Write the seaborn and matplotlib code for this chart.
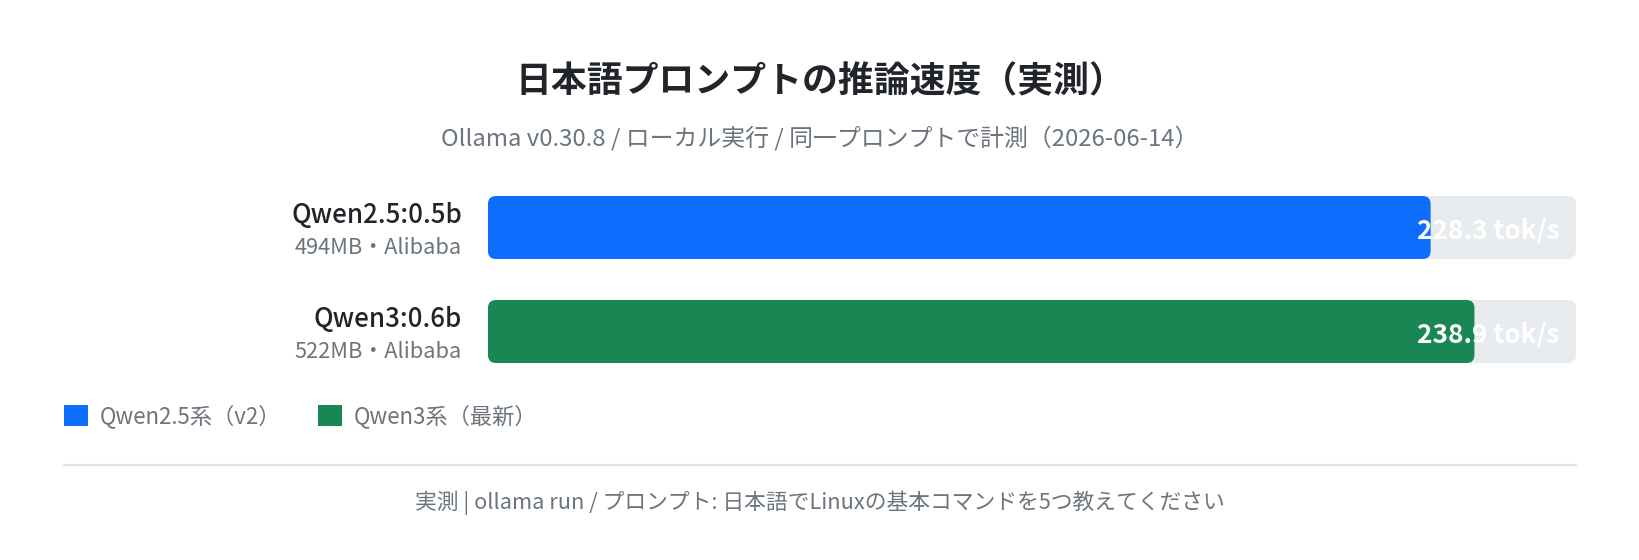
import matplotlib
matplotlib.use("Agg")
import matplotlib.pyplot as plt
import matplotlib.transforms as mtransforms
from matplotlib.patches import FancyBboxPatch, Patch
from matplotlib.lines import Line2D
import seaborn as sns
import pandas as pd

# データ（実測値）
models = ["Qwen2.5:0.5b", "Qwen3:0.6b"]
sizes = ["494MB", "522MB"]
vendors = ["Alibaba", "Alibaba"]
speeds = [228.3, 238.9]
series = ["Qwen2.5系（v2）", "Qwen3系（最新）"]
series_colors = ["#0d6efd", "#198754"]
axis_max = 263.5  # スケール上限

title = "日本語プロンプトの推論速度（実測）"
subtitle = "Ollama v0.30.8 / ローカル実行 / 同一プロンプトで計測（2026-06-14）"
footer = "実測 | ollama run / プロンプト: 日本語でLinuxの基本コマンドを5つ教えてください"

dark = "#212529"
gray = "#6c757d"
track_color = "#e9ecef"

sns.set_theme(style="white")
plt.rcParams['font.family'] = ['Noto Sans CJK JP', 'DejaVu Sans']

W, H = 1640, 560
fig = plt.figure(figsize=(W / 100, H / 100), dpi=100)
fig.patch.set_facecolor("white")


def fx(px):
    return px / W


def fy(px):
    return 1 - px / H


# バー領域（ピクセル位置で配置）
bar_left, bar_right = 488, 1576
ax = fig.add_axes([fx(bar_left), fy(383.5), (bar_right - bar_left) / W, 208 / H])

bar_h = 63 / 104
df = pd.DataFrame({
    "model": models,
    "speed": speeds,
    "series": series,
    "track": [axis_max] * len(models),
})

sns.barplot(data=df, x="track", y="model", color=track_color, width=bar_h,
            saturation=1, ax=ax)
sns.barplot(data=df, x="speed", y="model", hue="series",
            palette=dict(zip(series, series_colors)), width=bar_h,
            dodge=False, saturation=1, legend=False, ax=ax)

ax.set_xlim(0, axis_max)
ax.set_ylim(1.5, -0.5)
ax.axis("off")

# 角丸にする
px_x = axis_max / (bar_right - bar_left)
px_y = 1 / 104
radius = 8
for p in list(ax.patches):
    fb = FancyBboxPatch((p.get_x(), p.get_y()), p.get_width(), p.get_height(),
                        boxstyle=f"round,pad=0,rounding_size={radius * px_x}",
                        mutation_aspect=px_y / px_x,
                        facecolor=p.get_facecolor(), edgecolor="none")
    p.remove()
    ax.add_patch(fb)

trans = mtransforms.blended_transform_factory(fig.transFigure, ax.transData)
for i, (m, s, v, sp) in enumerate(zip(models, sizes, vendors, speeds)):
    ax.text(fx(462), i - 0.043, m, transform=trans, ha="right", va="baseline",
            fontsize=18.7, color=dark, weight="medium")
    ax.text(fx(462), i + 0.255, f"{s}・{v}", transform=trans, ha="right",
            va="baseline", fontsize=15.7, color=gray)
    ax.text(fx(1560), i + 0.11, f"{sp:.1f} tok/s", transform=trans, ha="right",
            va="baseline", fontsize=18.8, weight="bold", color="white", zorder=5)

# タイトル
fig.text(0.5, fy(82), title, ha="center", va="center", fontsize=25.8,
         weight="bold", color=dark)
fig.text(0.5, fy(138), subtitle, ha="center", va="center", fontsize=17.2,
         color=gray)

# 凡例
handles = [Patch(facecolor=c, edgecolor="none", label=s)
           for s, c in zip(series, series_colors)]
fig.legend(handles=handles, loc="center left", bbox_to_anchor=(fx(64), fy(416)),
           ncol=2, frameon=False, fontsize=16, handlelength=1.08,
           handleheight=1.08, handletextpad=0.55, columnspacing=1.63,
           borderpad=0, borderaxespad=0, labelcolor=gray)

# 区切り線とフッター
fig.add_artist(Line2D([fx(64), fx(1576)], [fy(465), fy(465)], color="#dee2e6",
                      lw=1.5))
fig.text(0.5, fy(503), footer, ha="center", va="center", fontsize=15.7,
         color=gray)

fig.savefig("out.png", dpi=100, facecolor="white")
